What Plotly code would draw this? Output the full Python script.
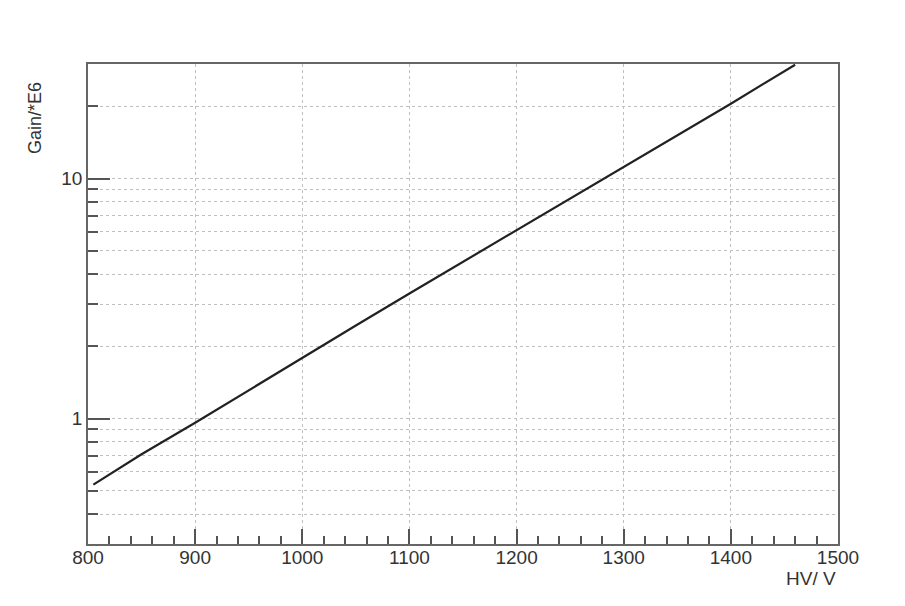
import plotly.graph_objects as go

hv = [805, 850, 900, 950, 1000, 1050, 1100, 1150, 1200, 1250, 1300, 1350, 1400, 1460]
gain = [0.53, 0.71, 0.96, 1.31, 1.80, 2.44, 3.32, 4.50, 6.07, 8.25, 11.2, 15.2, 20.5, 29.8]

x_major = [800, 900, 1000, 1100, 1200, 1300, 1400, 1500]
y_major = [1, 10]
y_minor = [0.3, 0.4, 0.5, 0.6, 0.7, 0.8, 0.9, 2, 3, 4, 5, 6, 7, 8, 9, 20, 30]

fig = go.Figure()
fig.add_trace(go.Scatter(x=hv, y=gain, mode="lines",
                         line=dict(color="#222222", width=2.2), showlegend=False))

fig.update_layout(
    width=905, height=606,
    margin=dict(l=80, r=75, t=56, b=70),
    paper_bgcolor="white", plot_bgcolor="white",
    font=dict(family="Liberation Sans, Arial, sans-serif", color="#333333"),
    xaxis=dict(
        range=[800, 1500], tickmode="array", tickvals=x_major,
        ticks="inside", ticklen=15, tickcolor="#555555", tickwidth=1.5,
        showline=True, linecolor="#666666", linewidth=1.5, mirror=True,
        showgrid=True, gridcolor="#c0c0c0", griddash="dot", gridwidth=1,
        tickfont=dict(size=19, color="#333333"),
        ticklabelstandoff=-5,
        minor=dict(tickmode="linear", tick0=800, dtick=20, ticks="inside",
                   ticklen=8, tickcolor="#555555", tickwidth=1.5, showgrid=False),
        zeroline=False,
    ),
    yaxis=dict(
        type="log", range=[-0.5228787, 1.4771213],
        tickmode="array", tickvals=y_major, ticktext=["1", "10"],
        ticks="inside", ticklen=22, tickcolor="#555555", tickwidth=1.5,
        showline=True, linecolor="#666666", linewidth=1.5, mirror=True,
        showgrid=True, gridcolor="#c0c0c0", griddash="dot", gridwidth=1,
        tickfont=dict(size=19, color="#333333"),
        minor=dict(tickmode="array", tickvals=y_minor, ticks="inside",
                   ticklen=10, tickcolor="#555555", tickwidth=1.5,
                   showgrid=True, gridcolor="#c0c0c0", griddash="dot", gridwidth=1),
        zeroline=False,
    ),
)

fig.add_annotation(text="HV/ V", xref="paper", yref="paper", x=1.0, y=-0.071,
                   xanchor="right", yanchor="middle", showarrow=False,
                   font=dict(size=19, color="#333333"))
fig.add_annotation(text="Gain/*E6", xref="paper", yref="paper", x=-0.0707, y=0.8875,
                   xanchor="center", yanchor="middle", textangle=-90, showarrow=False,
                   font=dict(size=18, color="#333333"))

fig.write_html("out.html")
